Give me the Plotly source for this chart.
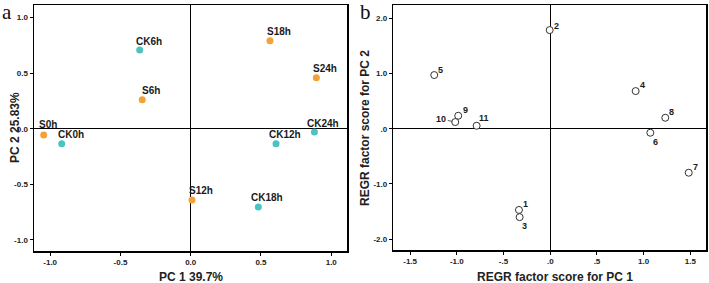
import plotly.graph_objects as go

# Panel a: PCA scores
a_labels = ["CK6h", "S6h", "S18h", "S24h", "CK24h", "S0h", "CK0h", "CK12h", "S12h", "CK18h"]
a_pc1 = [-0.363, -0.345, 0.564, 0.894, 0.880, -1.046, -0.918, 0.607, 0.009, 0.481]
a_pc2 = [0.709, 0.261, 0.793, 0.459, -0.030, -0.057, -0.135, -0.135, -0.640, -0.703]
a_group = ["CK", "S", "S", "S", "CK", "S", "CK", "CK", "S", "CK"]

# Panel b: REGR factor scores
b_labels = ["1", "2", "3", "4", "5", "6", "7", "8", "9", "10", "11"]
b_pc1 = [-0.335, -0.006, -0.328, 0.914, -1.242, 1.071, 1.482, 1.231, -0.985, -1.017, -0.788]
b_pc2 = [-1.470, 1.786, -1.600, 0.682, 0.972, -0.072, -0.796, 0.199, 0.235, 0.121, 0.054]

a_xticks = [-1.0, -0.5, 0.0, 0.5, 1.0]
a_xticktext = ["-1.0", "-0.5", "0.0", "0.5", "1.0"]
a_yticks = [-1.0, -0.5, 0.0, 0.5, 1.0]
a_yticktext = ["-1.0", "-0.5", "0.0", "0.5", "1.0"]
b_xticks = [-1.5, -1.0, -0.5, 0.0, 0.5, 1.0, 1.5]
b_xticktext = ["-1.5", "-1.0", "-.5", ".0", ".5", "1.0", "1.5"]
b_yticks = [-2.0, -1.0, 0.0, 1.0, 2.0]
b_yticktext = ["-2.0", "-1.0", ".0", "1.0", "2.0"]

colors = {"CK": "#4CC3C3", "S": "#F4A236"}

W, H = 709, 283
fig = go.Figure()

for g in ["CK", "S"]:
    xs = [x for x, gg in zip(a_pc1, a_group) if gg == g]
    ys = [y for y, gg in zip(a_pc2, a_group) if gg == g]
    fig.add_trace(go.Scatter(x=xs, y=ys, mode="markers", xaxis="x", yaxis="y",
                             marker=dict(size=7, color=colors[g]), showlegend=False))

fig.add_trace(go.Scatter(x=b_pc1, y=b_pc2, mode="markers", xaxis="x2", yaxis="y2",
                         marker=dict(size=7, color="white", line=dict(color="#333333", width=1)),
                         showlegend=False))

lab_font_a = dict(family="Liberation Sans", size=10, color="#1a1a1a", weight="bold")
lab_font_b = dict(family="Liberation Sans", size=9, color="#1a1a1a", weight="bold")

a_off = {"S0h": (4, 11)}
for lab, x, y in zip(a_labels, a_pc1, a_pc2):
    dx, dy = a_off.get(lab, (9, 9))
    fig.add_annotation(x=x, y=y, xref="x", yref="y", text=lab, showarrow=False,
                       xshift=dx, yshift=dy, font=lab_font_a)

b_off = {"2": (7, 4), "5": (6.5, 5), "9": (7, 6), "11": (7, 8), "4": (6.5, 6), "8": (6.5, 6),
         "6": (5.5, -9), "7": (6.5, 6), "1": (6.5, 6), "3": (5, -9)}
for lab, x, y in zip(b_labels, b_pc1, b_pc2):
    if lab == "10":
        fig.add_annotation(x=x, y=y, xref="x2", yref="y2", text=lab, showarrow=True,
                           arrowhead=0, arrowwidth=0.8, arrowcolor="#333333",
                           ax=-14, ay=-3, standoff=3, font=lab_font_b)
    else:
        dx, dy = b_off[lab]
        fig.add_annotation(x=x, y=y, xref="x2", yref="y2", text=lab, showarrow=False,
                           xshift=dx, yshift=dy, font=lab_font_b)

tick_font = dict(family="Liberation Sans", size=8, color="#222222", weight="bold")
title_font = dict(family="Liberation Sans", size=12, color="#222222", weight="bold")

common = dict(showline=True, mirror=True, linecolor="black", linewidth=1.5,
              showgrid=False, zeroline=True, zerolinecolor="black", zerolinewidth=1,
              ticks="outside", ticklen=3, tickwidth=1, tickcolor="black",
              tickfont=tick_font, fixedrange=True)

fig.update_layout(
    width=W, height=H, margin=dict(l=0, r=0, t=0, b=0),
    paper_bgcolor="white", plot_bgcolor="white",
    xaxis=dict(domain=[34 / W, 347 / W], range=[-1.115, 1.112], anchor="y",
               tickvals=a_xticks, ticktext=a_xticktext, **common),
    yaxis=dict(domain=[32 / H, 278 / H], range=[-1.10, 1.114], anchor="x",
               tickvals=a_yticks, ticktext=a_yticktext, **common),
    xaxis2=dict(domain=[393.3 / W, 706 / W], range=[-1.68, 1.667], anchor="y2",
                tickvals=b_xticks, ticktext=b_xticktext, **common),
    yaxis2=dict(domain=[33 / H, 278 / H], range=[-2.195, 2.24], anchor="x2",
                tickvals=b_yticks, ticktext=b_yticktext, **common),
)

# axis titles
def paper_text(px, py, text, font, angle=0):
    fig.add_annotation(x=px / W, y=(H - py) / H, xref="paper", yref="paper",
                       xanchor="center", yanchor="middle", text=text,
                       showarrow=False, textangle=angle, font=font)

paper_text(190.8, 276.5, "PC 1 39.7%", title_font)
paper_text(15, 128, "PC 2 25.83%", title_font, -90)
paper_text(555, 276.5, "REGR factor score for PC 1", title_font)
paper_text(365, 128, "REGR factor score for PC 2", title_font, -90)

# panel letters
letter_font = dict(family="Liberation Serif", size=21, color="#111111")
paper_text(7, 12, "a", letter_font)
paper_text(365, 12, "b", letter_font)

fig.write_html("out.html", config={"displayModeBar": False, "staticPlot": True},
               post_script="document.body.style.margin='0';document.body.style.overflow='hidden';")
